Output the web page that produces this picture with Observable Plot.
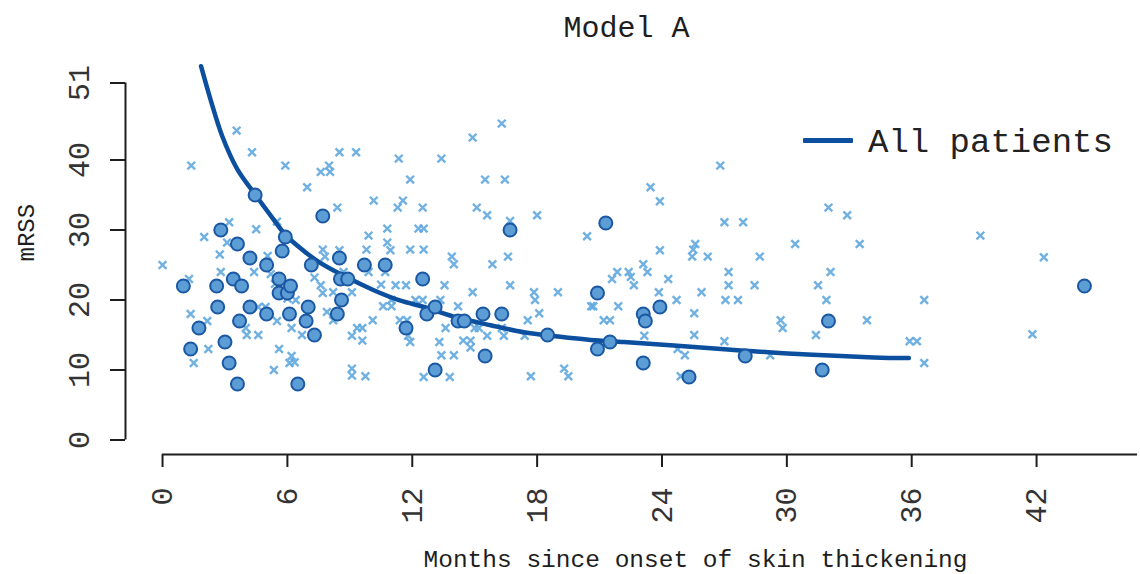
<!DOCTYPE html>
<html><head><meta charset="utf-8">
<script src="https://cdn.jsdelivr.net/npm/d3@7"></script>
<script src="https://cdn.jsdelivr.net/npm/@observablehq/plot@0.6"></script>
<style>
html,body{margin:0;padding:0;background:#fff;}
#wrap{position:relative;width:1140px;height:574px;font-family:"Liberation Mono",monospace;overflow:hidden;}
#legline{position:absolute;left:803px;top:138px;width:50px;height:5px;background:#0b4f9e;border-radius:1px;}
#legtext{position:absolute;left:868px;top:126px;font-size:34px;line-height:34px;color:#222;white-space:pre;}
</style></head><body>
<div id="wrap"><div id="chart"></div><div id="legline"></div><div id="legtext">All patients</div></div>
<script>
// Patients (filled circles)
const circleX = [1.0,1.35,1.75,2.6,2.65,2.8,3.0,3.2,3.4,3.6,3.6,3.7,3.8,4.2,4.2,4.45,5.0,5.0,5.6,5.6,5.75,5.9,6.0,6.1,6.15,6.5,6.9,7.0,7.15,7.3,7.7,8.4,8.5,8.55,8.6,8.9,9.7,10.7,11.7,12.5,12.7,13.1,13.1,14.2,14.5,15.4,15.5,16.3,16.7,18.5,20.9,20.9,21.3,21.5,23.1,23.2,23.1,23.9,25.3,28.0,31.7,32.0,44.3];
const circleY = [22,13,16,22,19,30,14,11,23,8,28,17,22,26,19,35,18,25,23,21,27,29,21,18,22,8,17,19,25,15,32,18,26,23,20,23,25,25,16,23,18,19,10,17,17,18,12,18,30,15,21,13,31,14,18,17,11,19,9,12,10,17,22];
// Other observations (crosses)
const crossX = [0.0,1.27,1.38,1.35,1.5,2.0,2.15,2.2,2.75,2.8,3.1,3.2,3.56,4.0,4.05,4.3,4.4,4.5,4.6,4.6,4.95,5.05,5.2,5.35,5.4,5.5,5.5,5.6,5.9,6.0,6.1,6.2,6.35,6.2,6.4,6.7,6.95,7.3,7.6,7.7,7.7,7.8,7.6,7.9,8.0,8.05,8.2,8.2,8.4,8.5,8.5,8.7,9.1,9.1,9.1,9.1,9.3,9.35,9.6,9.6,9.75,9.8,9.9,9.9,10.1,10.15,10.5,10.6,10.7,10.8,10.8,10.95,11.0,11.0,11.2,11.3,11.35,11.4,11.55,11.7,11.75,11.8,11.9,11.9,11.9,12.15,12.3,12.5,12.5,12.55,12.55,12.55,13.3,13.35,13.4,13.4,13.55,13.6,13.8,13.9,14.0,14.0,14.2,14.45,14.8,14.8,14.9,14.9,15.0,15.2,15.1,15.5,15.6,15.6,15.85,16.3,16.3,16.4,16.45,16.6,16.7,16.7,17.4,17.55,17.7,17.85,17.9,18.0,18.1,19.0,19.3,19.5,20.4,20.6,20.7,21.2,21.5,21.6,21.85,21.9,22.4,22.5,22.65,23.1,23.3,23.15,23.45,23.85,23.9,23.9,24.3,24.7,24.75,24.9,25.1,25.45,25.5,25.55,25.55,25.6,25.9,26.2,26.8,27.0,27.0,27.05,27.2,27.2,27.65,27.9,28.45,28.7,29.2,29.7,29.8,30.4,31.4,31.5,31.9,32.0,32.1,32.9,33.5,33.85,35.9,36.25,36.6,36.6,39.3,41.8,42.35];
const crossY = [25,23,39.2,18,11,29,17,13,26.5,24,28.2,31.1,44.2,16,15,41.1,24,30.1,19,15,19,26.3,23.7,10,22.3,31.2,17,13,39.2,20.2,11,12,11.1,16,20,15,36.1,23.2,22.1,21,27.2,26.2,38.3,18.3,39.2,38.3,21.1,17.1,33.2,41.1,27.1,24,21.1,14.9,10.2,9.2,41.1,16,16,14.2,9.1,27.2,29.2,24,17.1,34.2,22.2,19.1,24,30.2,28.2,27.1,19.1,20,22.1,33.2,40.2,17.1,34.2,22.1,17.1,14.9,14,37.2,27.2,20,30.2,20,33.2,30.2,27.2,9,14,20,40.2,12.1,22.1,16,9,26.2,25.1,12.1,19.1,14.2,14.2,13.2,43.2,21.1,16,16,33.2,37.2,32.1,14.9,25.1,45.2,16,14.9,37.2,26.2,22.1,31.3,14.9,17.1,9.1,21.1,20,32.1,18.1,21.1,10.2,9.1,29.1,19.1,19.1,17.1,17.1,23,24,19.1,24,23.3,22.1,25.1,24,14.9,36.1,21.1,34.1,27.1,23,20,13,9.1,12.1,26.2,27.2,18.1,15,28,21.1,26.2,39.2,31.1,14.1,20,24,22.1,20,31.1,22.1,26.2,12.1,17.1,16,28,15,22.1,20,33.2,24,32.1,28,17.1,14.1,14.1,11,20,29.2,15.1,26.1];
// Fitted curve (all patients)
const curveX = [1.85,2.31,2.87,3.59,4.47,5.19,5.91,6.79,7.43,8.55,10.15,11.44,12.56,14.16,15.76,17.36,18.97,20.57,22.17,24.57,27.78,30.98,34.18,35.86];
const curveY = [53.4,48.6,43.4,38.7,35.0,32.1,29.3,27.0,25.6,23.7,21.4,19.9,19.0,17.5,16.4,15.4,14.8,14.3,14.0,13.5,12.8,12.2,11.8,11.7];
// Axis ticks
const xTicks = [0,6,12,18,24,30,36,42];
const yTicks = [0,10,20,30,40,51];

const xDomain = [-1.78, 46.85];
const yDomain = [-2.07, 53.07];
const FONT = "Liberation Mono";
const INK = "#1e1e1e";

const circles = circleX.map((x,i)=>({x, y: circleY[i]}));
const crosses = crossX.map((x,i)=>({x, y: crossY[i]}));
const curve = curveX.map((x,i)=>({x, y: curveY[i]}));

const chart = Plot.plot({
  width: 1140, height: 574,
  marginLeft: 125, marginRight: 3, marginTop: 68, marginBottom: 120,
  style: {fontFamily: FONT, background: "#fff", color: INK},
  x: {domain: xDomain, axis: null},
  y: {domain: yDomain, axis: null},
  marks: [
    Plot.ruleX([xDomain[0]], {y1: yTicks[0], y2: yTicks[yTicks.length-1], stroke: INK, strokeWidth: 2}),
    Plot.ruleY([yDomain[0]], {x1: xTicks[0], x2: xDomain[1], stroke: INK, strokeWidth: 2}),
    Plot.axisY(yTicks, {anchor: "left", tickSize: 15, tickFormat: () => "", label: null, stroke: INK, strokeWidth: 2}),
    Plot.axisX(xTicks, {anchor: "bottom", tickSize: 13, tickFormat: () => "", label: null, stroke: INK, strokeWidth: 2}),
    Plot.text(yTicks, {y: d => d, text: d => String(d), frameAnchor: "left", dx: -37, rotate: -90, textAnchor: "middle", lineAnchor: "bottom", fontSize: 30, fontFamily: FONT, fill: "#333"}),
    Plot.text(xTicks, {x: d => d, text: d => String(d), frameAnchor: "bottom", dy: 33, rotate: -90, textAnchor: "end", lineAnchor: "middle", fontSize: 30, fontFamily: FONT, fill: "#333"}),
    Plot.text(["Model A"], {text: d => d, frameAnchor: "top", dx: -5, dy: -32, lineAnchor: "bottom", fontSize: 30, fontFamily: FONT, fill: INK}),
    Plot.text(["Months since onset of skin thickening"], {text: d => d, frameAnchor: "bottom", dx: 64, dy: 112, lineAnchor: "bottom", fontSize: 24.5, fontFamily: FONT, fill: INK}),
    Plot.text(["mRSS"], {text: d => d, frameAnchor: "left", dx: -92, rotate: -90, lineAnchor: "bottom", fontSize: 24, fontFamily: FONT, fill: INK}),
    Plot.dot(crosses, {x: "x", y: "y", symbol: "times", r: 3.6, stroke: "#62a8de", strokeOpacity: 0.9, strokeWidth: 2.4}),
    Plot.line(curve, {x: "x", y: "y", curve: "catmull-rom", stroke: "#0b4f9e", strokeWidth: 4.5, strokeLinecap: "round"}),
    Plot.dot(circles, {x: "x", y: "y", r: 6.5, fill: "#5c9dd6", stroke: "#1b58a3", strokeWidth: 2})
  ]
});
document.getElementById("chart").appendChild(chart);
</script>
</body></html>
